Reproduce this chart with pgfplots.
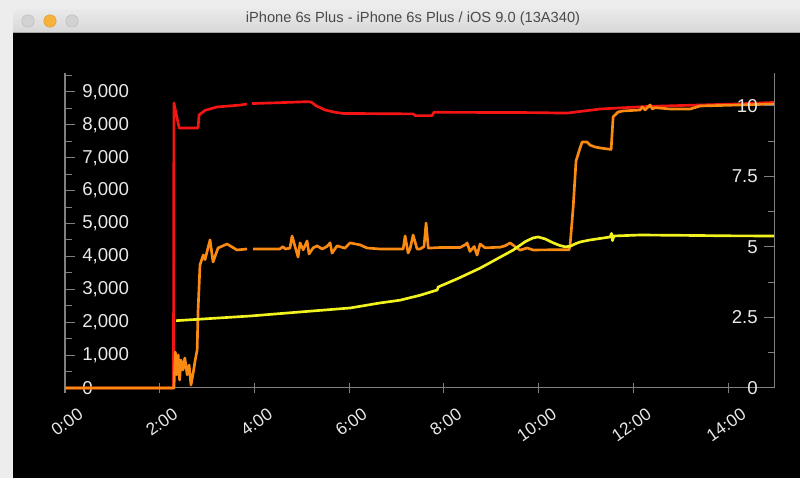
\documentclass[border=0pt]{standalone}
\usepackage{pgfplots}
\pgfplotsset{compat=1.18}
\usepackage{fontspec}
\setmainfont{Liberation Sans}
\definecolor{cred}{HTML}{F51414}
\definecolor{corange}{HTML}{FA8A12}
\definecolor{cyellow}{HTML}{F2F21E}
\definecolor{axgrey}{HTML}{808080}
\definecolor{lbl}{HTML}{E8E8E8}
\definecolor{bgout}{HTML}{EDEDED}
\definecolor{tbtop}{HTML}{EAEAEA}
\definecolor{tbbot}{HTML}{D3D3D3}
\definecolor{titletxt}{HTML}{4A4A4A}
\definecolor{btngrey}{HTML}{D2D2D2}
\definecolor{btngreyb}{HTML}{BDBDBD}
\definecolor{btnor}{HTML}{F6B23C}
\definecolor{btnorb}{HTML}{DE9C2E}
\begin{document}
\begin{tikzpicture}[x=0.75pt,y=0.75pt]
\path[use as bounding box] (0,0) rectangle (800,478);
\clip (0,0) rectangle (800,478);
\fill[bgout] (0,0) rectangle (800,478);
\shade[top color=tbtop, bottom color=tbbot, rounded corners=5pt] (13,440) rectangle (820,469);
\fill[black] (13,0) rectangle (800,446);
\draw[black!35, line width=0.5pt] (13,446) -- (800,446);
\filldraw[fill=btngrey, draw=btngreyb, line width=0.4pt] (28,457) circle (6.2);
\filldraw[fill=btnor, draw=btnorb, line width=0.4pt] (50,457) circle (6.2);
\filldraw[fill=btngrey, draw=btngreyb, line width=0.4pt] (72,457) circle (6.2);
\node[text=titletxt, font=\fontsize{11}{12}\selectfont, inner sep=0pt] at (413,459) {iPhone 6s Plus - iPhone 6s Plus / iOS 9.0 (13A340)};

\begin{axis}[
  at={(48.75pt,67.5pt)}, anchor=south west,
  scale only axis, width=531.75pt, height=236.25pt,
  xmin=0, xmax=14.97, ymin=0, ymax=9574,
  axis x line*=bottom, axis y line*=left,
  axis line style={axgrey, line width=0.75pt, -},
  xtick={0,2,4,6,8,10,12,14},
  xticklabels={0:00,2:00,4:00,6:00,8:00,10:00,12:00,14:00},
  ytick={0,1000,2000,3000,4000,5000,6000,7000,8000,9000},
  minor ytick={500,1500,2500,3500,4500,5500,6500,7500,8500,9500},
  xtick align=center, ytick align=inside,
  major tick length=7.5pt, minor tick length=5pt,
  tick style={axgrey, line width=0.75pt},
  ticklabel style={font=\fontsize{14}{16}\selectfont, text=lbl},
  /pgf/number format/assume math mode=true,
  /pgf/number format/1000 sep={,},
  yticklabel style={anchor=west, inner sep=0pt, xshift=12.75pt},
  xticklabel style={font=\fontsize{13}{15}\selectfont, rotate=35, anchor=north east, inner sep=0pt, xshift=1.5pt, yshift=-14pt},
  unbounded coords=jump,
  clip=false,
  every axis plot/.append style={line width=2pt, line join=round},
]
% red
\addplot[cred] coordinates {
(0,0) (2.29,0) (2.30,8663) (2.41,7903) (2.81,7903) (2.83,8300) (2.96,8440) (3.21,8541) (3.72,8602) (3.84,8632) (3.85,nan)
(3.95,8645) (4.5,8670) (5.11,8702) (5.20,8690) (5.30,8580) (5.49,8450) (5.70,8380) (5.87,8345) (7.35,8330) (7.40,8277) (7.75,8277) (7.79,8380) (9.88,8370) (10.6,8355) (11.3,8480) (12.35,8560) (14.19,8632) (14.97,8680)
};
% orange
\addplot[corange] coordinates {
(0,0) (2.26,0) (2.30,0) (2.33,1094) (2.36,400) (2.39,1003) (2.42,243) (2.45,851) (2.49,547) (2.53,912) (2.58,400) (2.62,699) (2.66,91) (2.70,400) (2.75,850) (2.79,1155) (2.81,2371) (2.85,3739) (2.92,4043) (2.957,3900) (3.062,4500) (3.126,3830) (3.231,4255) (3.421,4377) (3.632,4195) (3.844,4225) (3.90,nan)
(3.970,4225) (4.54,4225) (4.60,4300) (4.65,4225) (4.75,4250) (4.794,4620) (4.857,4300) (4.921,3980) (4.963,4410) (5.03,4200) (5.111,4470) (5.153,4073) (5.24,4260) (5.322,4320) (5.43,4225) (5.53,4300) (5.597,4410) (5.639,4100) (5.744,4320) (5.91,4250) (6.019,4410) (6.23,4350) (6.378,4255) (6.65,4225) (7.14,4225) (7.181,4620) (7.244,4103) (7.29,4250) (7.350,4650) (7.434,4225) (7.50,4225) (7.58,4300) (7.624,5015) (7.67,4250) (7.92,4270) (8.34,4270) (8.45,4350) (8.490,4410) (8.55,4150) (8.64,4300) (8.701,4040) (8.765,4377) (8.87,4260) (9.19,4280) (9.29,4320) (9.398,4410) (9.50,4300) (9.609,4190) (9.757,4255) (9.884,4195) (10.243,4200) (10.644,4200) (10.665,4347) (10.73,5500) (10.79,6900) (10.876,7300) (10.919,7477) (11.02,7477) (11.088,7380) (11.193,7325) (11.299,7295) (11.531,7250) (11.573,8237) (11.68,8390) (11.785,8420) (12.144,8450) (12.186,8541) (12.249,8450) (12.355,8602) (12.40,8480) (12.460,8520) (12.777,8480) (13.200,8480) (13.411,8571) (14.192,8600) (14.974,8630)
};
% yellow
\addplot[cyellow] coordinates {
(2.344,2046) (3.91,2188) (4.96,2310) (6.02,2432) (6.65,2584) (7.08,2670) (7.50,2820) (7.86,2979) (7.88,3070) (8.30,3330) (8.77,3647) (9.46,4190) (9.72,4450) (9.88,4560) (9.99,4590) (10.14,4530) (10.31,4410) (10.45,4330) (10.56,4290) (10.67,4310) (10.77,4380) (10.88,4440) (11.09,4500) (11.51,4590) (11.54,4700) (11.56,4480) (11.59,4620) (12.14,4650) (13.0,4640) (14.0,4625) (14.97,4620)
};
\end{axis}

\begin{axis}[
  at={(48.75pt,67.5pt)}, anchor=south west,
  scale only axis, width=531.75pt, height=236.25pt,
  xmin=0, xmax=14.97, ymin=0, ymax=11.17,
  axis y line*=right, axis x line=none,
  xtick=\empty, xticklabels={},
  axis line style={axgrey, line width=0.75pt, -},
  ytick={0,2.5,5,7.5,10},
  yticklabels={0,2.5,5,7.5,10},
  minor ytick={1.25,3.75,6.25,8.75},
  ytick align=inside,
  major tick length=7.5pt, minor tick length=4.5pt,
  tick style={axgrey, line width=0.75pt},
  ticklabel style={font=\fontsize{14}{16}\selectfont, text=lbl},
  yticklabel style={anchor=east, inner sep=0pt, xshift=-12pt},
]
\end{axis}
\end{tikzpicture}
\end{document}
